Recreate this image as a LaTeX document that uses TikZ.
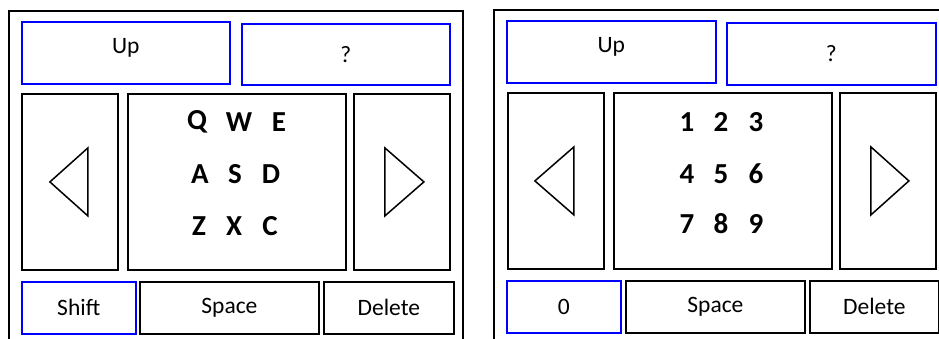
\documentclass[tikz,border=0pt]{standalone}
\usepackage{fontspec}
\setmainfont{Carlito}
\begin{document}
\begin{tikzpicture}[x=1pt,y=-1pt,
  box/.style={draw=black,line width=1.8pt,inner sep=0pt,anchor=north west,font=\fontsize{23.5}{27}\selectfont},
  bluebox/.style={box,draw=blue,line width=1.5pt},
  key/.style={inner sep=0pt,font=\bfseries\fontsize{29}{32}\selectfont},
  frame/.style={draw=black,line width=2pt},
  tri/.style={draw=black,line width=1.5pt,line join=miter}]
\useasboundingbox (0,0) rectangle (939,338);
% ---------- left panel ----------
\draw[frame] (9,340) -- (9,11) -- (463,11) -- (463,340);
\node[bluebox,minimum width=208pt,minimum height=62pt] (up1) at (21,21) {};
\node[font=\fontsize{23.5}{27}\selectfont] (up1t) at ([yshift=5pt]up1.center) {Up};
\node[bluebox,minimum width=208pt,minimum height=61pt] (q1) at (241,23) {?};
\node[box,minimum width=96pt,minimum height=176pt] (l1) at (21,93) {};
\node[box,minimum width=218pt,minimum height=176pt] (c1) at (127,93) {};
\node[box,minimum width=96pt,minimum height=176pt] (r1) at (353,93) {};
\draw[tri] ([xshift=-20pt]l1.center) -- ([xshift=18pt,yshift=-34pt]l1.center) -- ([xshift=18pt,yshift=34pt]l1.center) -- cycle;
\draw[tri] ([xshift=-17pt,yshift=-34pt]r1.center) -- ([xshift=22pt]r1.center) -- ([xshift=-17pt,yshift=34pt]r1.center) -- cycle;
\node[key] (kq) at (197,122) {Q};
\node[key] (kw) at (239,122) {W};
\node[key] (ke) at (279,122) {E};
\node[key] (ka) at (200,174) {A};
\node[key] (ks) at (235,174) {S};
\node[key] (kd) at (271,174) {D};
\node[key] (kz) at (199,226) {Z};
\node[key] (kx) at (234,226) {X};
\node[key] (kc) at (270,226) {C};
\node[bluebox,minimum width=114pt,minimum height=52pt] (sh1) at (21,281) {Shift};
\node[box,minimum width=179pt,minimum height=52pt] (sp1) at (139,281) {Space};
\node[box,minimum width=130pt,minimum height=52pt] (de1) at (323,281) {Delete};
% ---------- right panel ----------
\draw[frame] (494,340) -- (494,10) -- (941,10);
\node[bluebox,minimum width=209pt,minimum height=62pt] (up2) at (506,20) {};
\node[font=\fontsize{23.5}{27}\selectfont] (up2t) at ([yshift=5pt]up2.center) {Up};
\node[bluebox,minimum width=209pt,minimum height=62pt] (q2) at (726,22) {?};
\node[box,minimum width=96pt,minimum height=176pt] (l2) at (507,92) {};
\node[box,minimum width=218pt,minimum height=176pt] (c2) at (613,92) {};
\node[box,minimum width=96pt,minimum height=176pt] (r2) at (839,92) {};
\draw[tri] ([xshift=-21pt]l2.center) -- ([xshift=18pt,yshift=-34pt]l2.center) -- ([xshift=18pt,yshift=34pt]l2.center) -- cycle;
\draw[tri] ([xshift=-17pt,yshift=-34pt]r2.center) -- ([xshift=21pt]r2.center) -- ([xshift=-17pt,yshift=34pt]r2.center) -- cycle;
\node[key] (n1) at (687,122) {1};
\node[key] (n2) at (721,122) {2};
\node[key] (n3) at (756,122) {3};
\node[key] (n4) at (687,174) {4};
\node[key] (n5) at (721,174) {5};
\node[key] (n6) at (756,174) {6};
\node[key] (n7) at (687,224) {7};
\node[key] (n8) at (721,224) {8};
\node[key] (n9) at (756,224) {9};
\node[bluebox,minimum width=114pt,minimum height=52pt] (z2) at (506,280) {0};
\node[box,minimum width=179pt,minimum height=52pt] (sp2) at (625,280) {Space};
\node[box,minimum width=129pt,minimum height=52pt] (de2) at (809,280) {Delete};
\end{tikzpicture}
\end{document}
